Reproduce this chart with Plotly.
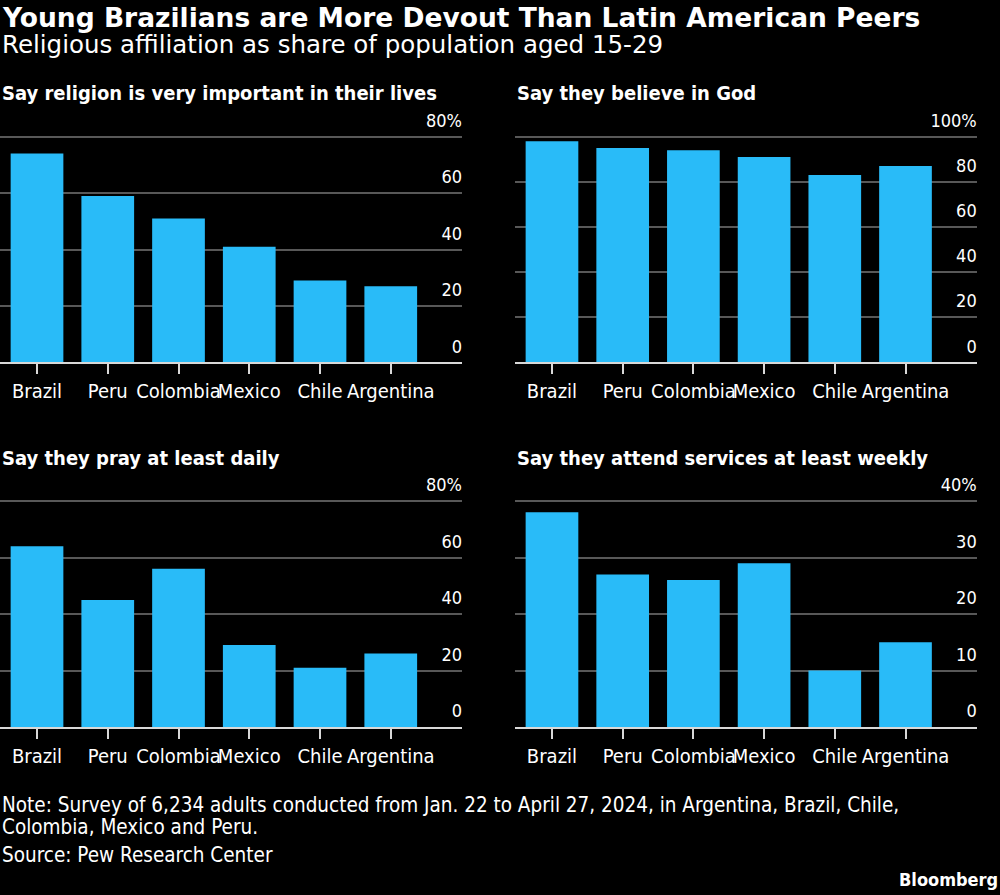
import plotly.graph_objects as go

countries = ["Brazil", "Peru", "Colombia", "Mexico", "Chile", "Argentina"]
important = [74, 59, 51, 41, 29, 27]
believe = [98, 95, 94, 91, 83, 87]
pray = [64, 45, 56, 29, 21, 26]
attend = [38, 27, 26, 29, 10, 15]

panel_titles = [
    "Say religion is very important in their lives",
    "Say they believe in God",
    "Say they pray at least daily",
    "Say they attend services at least weekly",
]
ticks_80 = [0, 20, 40, 60, 80]
ticks_80_text = ["0", "20", "40", "60", "80%"]
ticks_100 = [0, 20, 40, 60, 80, 100]
ticks_100_text = ["0", "20", "40", "60", "80", "100%"]
ticks_40 = [0, 10, 20, 30, 40]
ticks_40_text = ["0", "10", "20", "30", "40%"]

title = "Young Brazilians are More Devout Than Latin American Peers"
subtitle = "Religious affiliation as share of population aged 15-29"
note1 = "Note: Survey of 6,234 adults conducted from Jan. 22 to April 27, 2024, in Argentina, Brazil, Chile,"
note2 = "Colombia, Mexico and Peru."
source = "Source: Pew Research Center"

W, H = 1000, 895
BAR = "#29BBF8"
GRID = "#585858"
AXIS = "#d8d8d8"
TXT = "#ffffff"
FONT = "DejaVu Sans Condensed"
FONT_W = "DejaVu Sans"

def py(px):
    return 1 - px / H

HEAD = 32.0  # invisible headroom (px) above the top gridline so its label shows
xdoms = [[0.0, 0.462], [0.515, 0.9767], [0.0, 0.462], [0.515, 0.9767]]
top_span = 362.3 - 136.7
bot_span = 727 - 501
ydoms = [[py(362.3), py(136.7 - HEAD)], [py(362.3), py(136.7 - HEAD)],
         [py(727), py(501 - HEAD)], [py(727), py(501 - HEAD)]]
spans = [top_span, top_span, bot_span, bot_span]
series = [important, believe, pray, attend]
ymax = [80, 100, 80, 40]
yticks = [(ticks_80, ticks_80_text), (ticks_100, ticks_100_text), (ticks_80, ticks_80_text), (ticks_40, ticks_40_text)]

fig = go.Figure()
layout = dict(
    width=W, height=H,
    margin=dict(l=0, r=0, t=0, b=0),
    paper_bgcolor="black", plot_bgcolor="black",
    showlegend=False, bargap=0.255,
    font=dict(family=FONT, color=TXT),
)

for i in range(4):
    n = "" if i == 0 else str(i + 1)
    fig.add_trace(go.Bar(
        x=countries, y=series[i], marker=dict(color=BAR, line=dict(width=0)),
        xaxis="x" + n, yaxis="y" + n, hoverinfo="skip",
    ))
    layout["xaxis" + n] = dict(
        domain=xdoms[i], anchor="y" + n, range=[-0.523, 6.007],
        showgrid=False, zeroline=False,
        showline=True, linecolor=AXIS, linewidth=1.5,
        ticks="outside", ticklen=10, tickwidth=1.5, tickcolor=AXIS,
        tickangle=0,
        tickfont=dict(family=FONT, size=20, color=TXT),
        fixedrange=True,
    )
    layout["yaxis" + n] = dict(
        domain=ydoms[i], anchor="x" + n, side="right",
        range=[0, ymax[i] * (1 + HEAD / spans[i])],
        tickvals=yticks[i][0], ticktext=yticks[i][1],
        ticklabelposition="inside", ticklabelshift=-16, ticklabelstandoff=-3,
        ticks="", showline=False, zeroline=False,
        showgrid=True, gridcolor=GRID, gridwidth=1.5,
        tickfont=dict(family=FONT, size=18, color=TXT),
        fixedrange=True,
    )

fig.update_layout(**layout)

def ann(text, x, ypx, size, family, bold=False, xanchor="left"):
    fig.add_annotation(
        text=("<b>%s</b>" % text) if bold else text,
        x=x, y=py(ypx), xref="paper", yref="paper",
        xanchor=xanchor, yanchor="middle", showarrow=False,
        font=dict(family=family, size=size, color=TXT),
    )

ann(title, 0, 17, 26.5, FONT_W, bold=True)
ann(subtitle, 0, 44.5, 24.5, FONT_W)
ann(panel_titles[0], 0, 92.8, 20, FONT, bold=True)
ann(panel_titles[1], 0.515, 92.8, 20, FONT, bold=True)
ann(panel_titles[2], 0, 457.8, 20, FONT, bold=True)
ann(panel_titles[3], 0.515, 457.8, 20, FONT, bold=True)
ann(note1, 0, 804.5, 20.5, FONT)
ann(note2, 0, 827, 20.5, FONT)
ann(source, 0, 854.5, 20.5, FONT)
ann("Bloomberg", 1.0, 879.5, 18, FONT, bold=True, xanchor="right")

fig.write_html(
    "out.html",
    config={"displayModeBar": False},
    post_script="document.body.style.margin='0px';document.body.style.overflow='hidden';",
)
